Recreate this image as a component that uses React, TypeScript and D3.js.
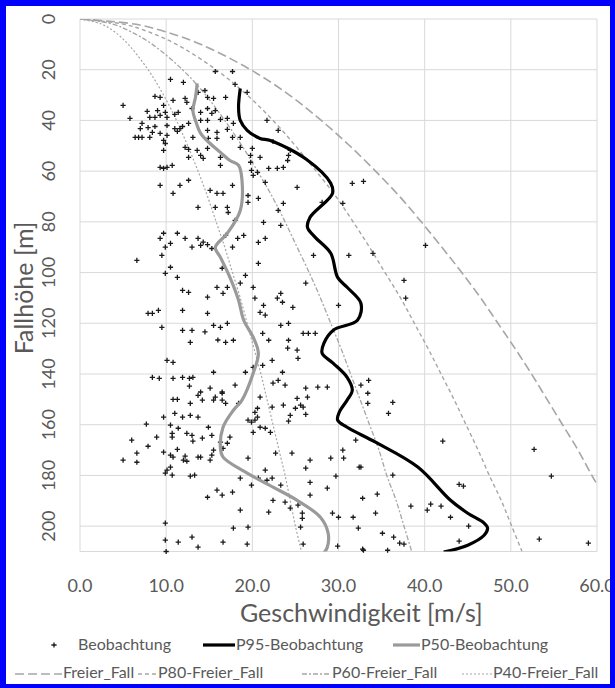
import React from 'react';
import * as d3 from 'd3';

// axis ticks
const speedTicks = [0, 10, 20, 30, 40, 50, 60];
const heightTicks = [0, 20, 40, 60, 80, 100, 120, 140, 160, 180, 200];

// free fall reference curves, read at these heights [m]
const fallHeights = [0, 2, 5, 10, 20, 30, 40, 50, 60, 70, 80, 90, 100, 110, 120, 130, 140, 150, 160, 170, 180, 190, 200, 210];
const freierFall = [0, 6.3, 9.9, 14.0, 19.8, 24.3, 28.0, 31.3, 34.3, 37.1, 39.6, 42.0, 44.3, 46.5, 48.5, 50.5, 52.4, 54.2, 56.0, 57.8, 59.4, 61.1, 62.6, 64.2];
const p80FreierFall = [0, 5.0, 7.9, 11.2, 15.8, 19.4, 22.4, 25.0, 27.4, 29.7, 31.7, 33.6, 35.4, 37.2, 38.8, 40.4, 41.9, 43.4, 44.8, 46.2, 47.5, 48.9, 50.1, 51.3];
const p60FreierFall = [0, 3.8, 5.9, 8.4, 11.9, 14.6, 16.8, 18.8, 20.6, 22.3, 23.8, 25.2, 26.6, 27.9, 29.1, 30.3, 31.4, 32.5, 33.6, 34.7, 35.6, 36.7, 37.6, 38.5];
const p40FreierFall = [0, 2.5, 4.0, 5.6, 7.9, 9.7, 11.2, 12.5, 13.7, 14.8, 15.8, 16.8, 17.7, 18.6, 19.4, 20.2, 21.0, 21.7, 22.4, 23.1, 23.8, 24.4, 25.0, 25.7];

// P95 of observations: [speed, height]
const p95Beobachtung: [number, number][] = [
  [18.6, 27.4], [18.4, 34.9], [18.6, 40], [19.4, 43.9], [20.9, 47.1], [22.1, 47.9], [26.3, 55.4],
  [29.1, 64.8], [29.3, 68.8], [26.7, 78.2], [26.4, 82.2], [27.3, 86.1], [29.1, 92.4], [29.9, 101.9],
  [31.0, 105.8], [32.6, 112.1], [32.2, 118.8], [29.4, 122.7], [28.3, 127.9], [28.1, 131.8], [29.4, 135.8],
  [31.0, 141.3], [31.6, 146.4], [31.0, 150.3], [30.1, 155], [29.9, 158.2], [31.0, 161], [34.3, 166.9],
  [39.2, 176.7], [43.0, 189.8], [45.0, 194.9], [46.9, 198.8], [47.3, 200.8], [46.9, 203.6], [45.0, 207.5],
  [42.2, 210.2],
];

// P50 of observations: [speed, height]
const p50Beobachtung: [number, number][] = [
  [13.6, 25.4], [13.4, 30.9], [13.1, 36.1], [13.4, 40], [14.0, 45.1], [15.1, 49.1], [16.3, 52.6],
  [17.4, 55.8], [18.4, 57.7], [18.8, 63.6], [18.6, 75.5], [17.1, 84.5], [15.7, 90.1], [16.3, 94],
  [17.4, 101.9], [18.4, 110.9], [19.0, 118.8], [20.1, 125.5], [20.7, 131.8], [20.1, 139.7], [18.8, 150.3],
  [17.8, 154.3], [16.6, 161], [16.3, 169.3], [16.6, 172.8], [19.4, 179.1], [22.4, 184.6], [25.2, 189.8],
  [27.9, 196.5], [28.8, 202.8], [28.7, 208.3], [28.3, 210.6],
];

// single observations: [speed, height]
const beobachtung: [number, number][] = [
  [15.7, 20.7], [17.7, 20.7], [18.0, 25.8], [19.4, 28.9], [10.5, 23.8], [12.0, 25.0], [5.0, 34.1], [5.8, 39.2],
  [8.7, 30.5], [9.3, 30.9], [10.8, 32.1], [12.2, 31.3], [12.4, 32.9], [13.7, 28.9], [14.5, 28.2], [14.8, 30.9],
  [15.5, 31.3], [16.9, 30.9], [7.8, 36.4], [9.0, 36.1], [9.7, 34.1], [9.9, 36.8], [11.0, 37.6], [11.4, 36.8],
  [13.0, 35.3], [14.0, 36.8], [14.8, 35.3], [15.3, 37.2], [15.7, 36.1], [8.1, 38.8], [8.7, 38.8], [9.3, 38.0],
  [10.1, 38.8], [7.2, 41.2], [7.9, 42.8], [8.7, 42.4], [10.1, 42.0], [11.0, 43.2], [11.9, 42.4], [12.6, 41.2],
  [14.0, 40.0], [14.8, 40.0], [16.3, 39.6], [17.1, 39.2], [17.8, 41.2], [7.0, 43.2], [8.4, 44.7], [9.3, 45.1],
  [10.1, 45.9], [11.3, 44.3], [11.6, 43.2], [14.8, 43.9], [15.9, 44.7], [17.1, 43.5], [6.4, 46.7], [6.8, 46.7],
  [7.2, 46.7], [8.1, 46.7], [13.1, 46.7], [14.9, 47.1], [15.9, 47.1], [17.7, 46.7], [18.6, 46.7], [9.9, 49.1],
  [12.2, 50.6], [9.7, 51.8], [12.6, 51.4], [13.6, 51.8], [14.8, 51.0], [18.6, 50.6], [20.0, 51.0], [12.6, 54.6],
  [14.0, 53.8],
  [9.7, 47.9], [9.3, 58.5], [9.7, 58.9], [10.1, 58.5], [10.7, 57.7], [9.3, 65.6], [10.8, 68.8], [11.6, 65.6],
  [12.6, 63.6], [13.7, 74.3], [9.3, 86.5], [9.7, 84.5], [10.5, 88.5], [9.9, 90.0], [11.3, 84.5], [12.2, 86.5],
  [13.0, 90.0], [13.7, 86.5], [6.6, 95.2], [9.5, 93.2], [10.5, 97.9], [9.9, 100.3], [11.3, 101.9], [11.9, 107.0],
  [12.6, 107.8], [7.9, 116.1], [8.4, 116.1], [9.1, 114.9], [11.9, 114.9], [9.5, 121.6], [11.9, 122.8], [13.0, 122.8],
  [12.8, 127.5], [10.1, 134.6], [10.8, 135.4],
  [8.4, 141.3], [9.2, 141.7], [10.8, 141.7], [11.9, 141.3], [12.7, 141.7], [13.1, 141.3], [12.7, 144.8], [10.8, 150.0],
  [11.3, 150.0], [12.8, 151.6], [13.7, 148.4], [9.7, 157.0], [11.0, 155.5], [11.9, 157.0], [12.8, 156.3], [13.7, 157.0],
  [7.7, 159.8], [10.5, 160.2], [11.4, 161.4], [10.7, 163.4], [12.4, 163.4], [13.0, 164.2], [6.0, 166.1], [8.9, 164.9],
  [10.7, 164.9], [13.1, 166.5], [7.9, 168.5], [9.7, 170.8], [11.3, 169.7], [6.6, 171.2], [10.5, 172.0], [10.8, 172.8],
  [12.2, 172.4], [5.0, 174.0], [6.6, 174.8], [12.0, 174.0], [12.4, 174.4], [13.7, 172.8], [10.5, 176.7], [10.1, 177.9],
  [9.9, 179.1], [10.7, 179.9], [12.8, 180.3], [13.3, 179.9], [9.9, 198.8], [9.9, 205.5], [11.4, 206.3], [13.0, 204.3],
  [13.7, 208.3], [10.0, 210.0],
  [14.2, 150.3], [14.0, 147.1], [15.5, 150.3], [15.7, 149.1], [16.5, 147.6], [16.5, 150.3], [16.9, 151.6], [18.4, 151.6],
  [20.9, 149.1], [20.3, 155.1], [20.6, 153.5], [19.5, 158.2], [19.9, 159.0], [20.3, 158.2], [20.6, 157.0], [22.3, 153.1],
  [23.6, 152.3], [24.4, 156.3], [25.0, 153.5], [25.2, 149.6], [25.6, 152.3], [25.9, 153.1], [26.4, 149.1], [26.2, 155.9],
  [24.2, 158.6], [14.9, 161.0], [14.2, 165.3], [15.3, 164.2], [16.3, 166.9], [17.1, 167.3], [17.4, 164.9], [20.1, 163.0],
  [20.9, 161.0], [21.5, 161.4], [22.1, 163.0], [15.5, 170.0], [16.6, 169.3], [14.0, 172.8], [15.3, 172.0], [15.1, 174.0],
  [19.5, 173.2], [22.7, 171.2], [24.6, 171.2], [26.7, 174.0], [29.1, 173.2], [30.5, 170.0], [30.6, 173.2], [26.2, 177.1],
  [21.5, 177.9], [21.7, 181.9], [20.7, 181.1], [18.6, 181.1], [19.9, 183.8], [22.3, 181.1], [23.3, 183.8], [26.7, 182.7],
  [29.7, 180.3], [28.7, 185.0], [26.7, 187.8], [15.9, 185.8], [16.5, 187.8], [17.7, 186.6], [14.8, 188.6], [22.4, 189.8],
  [23.8, 190.5], [24.4, 192.9], [25.3, 191.7], [18.6, 193.7], [21.9, 194.5], [25.8, 194.9], [25.8, 196.9], [29.3, 194.9],
  [30.0, 196.5], [31.7, 196.5], [32.8, 189.0], [32.6, 176.7], [32.0, 166.1], [25.6, 200.4], [17.8, 200.8], [19.5, 200.4],
  [32.3, 200.8], [16.6, 206.3], [19.4, 207.1], [25.9, 207.1], [29.9, 207.9], [32.8, 209.1],
  [16.3, 54.6], [16.3, 57.7], [17.7, 65.6], [15.9, 68.8], [16.6, 68.8], [15.7, 74.3], [17.1, 74.3], [17.2, 76.3],
  [18.0, 79.4], [19.5, 69.6], [19.5, 72.3], [20.7, 70.7], [19.9, 59.7], [20.1, 61.7], [20.6, 60.5], [21.9, 58.9],
  [22.9, 58.9], [23.6, 58.5], [21.5, 64.4], [19.8, 53.8], [19.8, 56.5], [20.9, 54.6], [24.2, 53.8], [24.1, 55.8],
  [25.2, 66.4], [23.6, 72.7], [23.0, 75.5], [23.3, 81.4], [21.3, 80.2], [21.5, 86.5], [20.7, 88.1], [19.0, 85.3],
  [18.3, 86.5], [16.9, 85.3], [17.7, 90.0], [14.3, 88.0], [14.8, 89.0], [14.0, 89.3], [15.3, 90.5], [27.1, 93.2],
  [31.2, 93.2], [34.0, 92.4], [30.5, 72.7], [31.6, 64.8], [32.9, 64.0], [28.1, 72.3], [40.1, 89.3], [37.6, 103.1],
  [37.8, 110.1], [20.7, 96.4], [19.2, 101.1], [18.6, 104.2], [16.5, 98.3], [16.6, 108.2], [17.1, 105.8], [15.9, 105.8],
  [14.8, 109.7], [14.8, 116.1], [15.5, 120.8], [16.3, 121.6], [17.1, 120.0], [17.8, 126.7], [16.9, 127.5], [20.1, 105.8],
  [20.3, 110.1], [21.3, 112.9], [20.9, 115.7], [21.5, 116.8], [22.9, 110.1], [23.5, 111.7], [23.3, 108.2], [24.7, 113.7],
  [26.2, 104.2], [30.0, 112.9], [21.2, 124.0], [21.9, 126.7], [23.3, 120.8], [24.2, 120.0], [25.9, 124.0], [26.5, 124.0],
  [27.3, 124.0], [24.2, 126.7], [25.2, 130.6], [25.3, 133.8], [24.1, 129.8], [22.3, 134.6], [23.5, 139.3], [23.0, 142.5],
  [22.4, 143.6], [23.8, 144.4], [21.2, 136.6], [20.1, 137.4], [19.2, 139.3], [18.0, 144.4], [15.5, 139.3], [15.1, 145.6],
  [16.5, 147.1], [26.2, 145.6], [27.6, 145.2], [28.7, 145.2], [32.6, 144.4], [33.5, 142.5], [14.3, 55.0], [15.1, 67.6],
  [16.0, 126.6], [14.5, 123.4],
  [33.4, 147.6], [33.4, 151.6], [36.3, 151.2], [35.8, 155.5], [42.1, 166.5], [32.4, 176.7], [36.3, 179.9], [52.7, 169.7],
  [54.7, 180.3], [44.0, 183.5], [44.5, 184.2], [34.5, 187.4], [38.4, 192.1], [40.3, 193.7], [40.7, 191.3], [41.9, 192.1],
  [43.0, 196.5], [45.1, 200.0], [34.3, 194.9], [35.1, 202.8], [36.4, 204.3], [37.1, 206.7], [37.6, 207.1], [44.0, 205.9],
  [53.3, 205.1], [59.0, 206.7], [35.7, 209.5], [32.9, 209.5],
  [21.7, 40.0], [23.0, 43.9], [22.4, 48.3], [24.4, 51.8],
];

const width = 615;
const height = 688;
const plot = { left: 80, right: 597, top: 19, bottom: 551.5 };
const textColor = '#595959';
const refGray = '#a6a6a6';
const font = 'Lato, "Open Sans", sans-serif';

const crossPath = 'M-2.6,0H2.6M0,-2.6V2.6';

export default function App() {
  const x = d3.scaleLinear().domain([0, 60]).range([plot.left, plot.right]);
  const y = d3.scaleLinear().domain([0, 210]).range([plot.top, plot.bottom]);

  const line = d3
    .line<[number, number]>()
    .x((d) => x(d[0]))
    .y((d) => y(d[1]))
    .curve(d3.curveCatmullRom.alpha(0.5));

  const fallCurve = (speeds: number[]) =>
    line(fallHeights.map((h, i) => [speeds[i], h] as [number, number])) || '';

  const refLines = [
    { name: 'Freier_Fall', speeds: freierFall, dash: '9,4', width: 1.6 },
    { name: 'P80-Freier_Fall', speeds: p80FreierFall, dash: '4,3', width: 1.4 },
    { name: 'P60-Freier_Fall', speeds: p60FreierFall, dash: '5,2,2,2', width: 1.3 },
    { name: 'P40-Freier_Fall', speeds: p40FreierFall, dash: '2,2', width: 1.2 },
  ];

  const legendRow2 = [
    { x1: 15, x2: 62, text: 63 },
    { x1: 138, x2: 157, text: 158 },
    { x1: 302, x2: 331, text: 332 },
    { x1: 462, x2: 492, text: 493 },
  ];

  return (
    <svg
      width={width}
      height={height}
      style={{ position: 'absolute', left: 0, top: 0, background: '#fff' }}
      fontFamily={font}
    >
      <defs>
        <clipPath id="plot-clip">
          <rect x={plot.left} y={plot.top} width={plot.right - plot.left} height={plot.bottom - plot.top} />
        </clipPath>
      </defs>
      <rect x={0} y={0} width={width} height={height} fill="#fff" />

      {/* grid */}
      <g stroke="#d9d9d9" strokeWidth={1}>
        {speedTicks.map((t) => (
          <line key={'gx' + t} x1={x(t)} x2={x(t)} y1={plot.top} y2={plot.bottom} />
        ))}
        {heightTicks.map((t) => (
          <line key={'gy' + t} x1={plot.left} x2={plot.right} y1={y(t)} y2={y(t)} />
        ))}
        <line x1={plot.left} x2={plot.right} y1={plot.bottom} y2={plot.bottom} />
      </g>

      {/* free fall references */}
      <g clipPath="url(#plot-clip)" fill="none">
        {refLines.map((r) => (
          <path key={r.name} d={fallCurve(r.speeds)} stroke={refGray} strokeWidth={r.width} strokeDasharray={r.dash} />
        ))}
      </g>

      {/* observations */}
      <g stroke="#1a1a1a" strokeWidth={1.3}>
        {beobachtung.map((d, i) => (
          <path key={i} d={crossPath} transform={`translate(${x(d[0])},${y(d[1])})`} />
        ))}
      </g>

      <g clipPath="url(#plot-clip)" fill="none">
        <path d={line(p50Beobachtung) || ''} stroke="#9a9a9a" strokeWidth={3.2} />
        <path d={line(p95Beobachtung) || ''} stroke="#000" strokeWidth={3.2} />
      </g>

      {/* x ticks */}
      <g fill={textColor} fontSize={18} textAnchor="middle">
        {speedTicks.map((t) => (
          <text key={'tx' + t} x={x(t)} y={592}>
            {t.toFixed(1)}
          </text>
        ))}
      </g>
      {/* y ticks */}
      <g fill={textColor} fontSize={18} textAnchor="middle">
        {heightTicks.map((t) => (
          <text key={'ty' + t} transform={`translate(49,${y(t)}) rotate(-90)`} dy="0.35em">
            {t}
          </text>
        ))}
      </g>

      <text x={240} y={622} fill={textColor} fontSize={25}>
        Geschwindigkeit [m/s]
      </text>
      <text transform="translate(24,288) rotate(-90)" dy="0.35em" textAnchor="middle" fill={textColor} fontSize={25}>
        Fallhöhe [m]
      </text>

      {/* legend */}
      <g fill={textColor} fontSize={16}>
        <path d={crossPath} transform="translate(54,645)" stroke="#1a1a1a" strokeWidth={1.3} />
        <text x={78} y={650}>Beobachtung</text>
        <line x1={203} x2={235} y1={645} y2={645} stroke="#000" strokeWidth={3.2} />
        <text x={236} y={650}>P95-Beobachtung</text>
        <line x1={393} x2={420} y1={645} y2={645} stroke="#9a9a9a" strokeWidth={3.2} />
        <text x={421} y={650}>P50-Beobachtung</text>
        {refLines.map((r, i) => (
          <g key={'lg' + r.name}>
            <line
              x1={legendRow2[i].x1}
              x2={legendRow2[i].x2}
              y1={674}
              y2={674}
              stroke={refGray}
              strokeWidth={r.width}
              strokeDasharray={r.dash}
            />
            <text x={legendRow2[i].text} y={678}>
              {r.name}
            </text>
          </g>
        ))}
      </g>

      {/* frame */}
      <g fill="#0000ff">
        <rect x={0} y={0} width={width} height={6} />
        <rect x={0} y={0} width={6} height={height} />
        <rect x={width - 5} y={0} width={5} height={height} />
        <rect x={0} y={height - 4} width={width} height={4} />
      </g>
    </svg>
  );
}
